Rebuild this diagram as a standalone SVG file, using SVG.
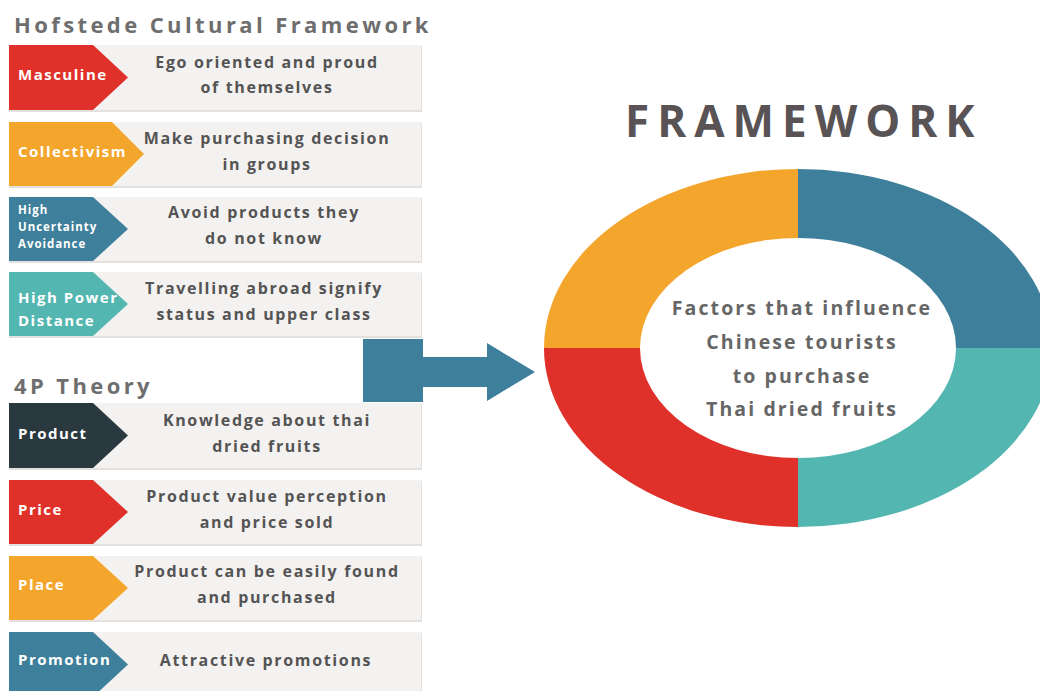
<svg xmlns="http://www.w3.org/2000/svg" width="1040" height="691" viewBox="0 0 1040 691">
  <defs>
    <style>
      .title { font-family: "Open Sans", "Liberation Sans", sans-serif; font-weight: 700; font-size: 22px; fill: #6e6e6e; letter-spacing: 3.4px; }
      .big { font-family: "Open Sans", "Liberation Sans", sans-serif; font-weight: 700; font-size: 44px; fill: #595356; letter-spacing: 8px; }
      .card { fill: #f4f2f0; }
      .card-edge { fill: #e3e0dd; }
      .tag { font-family: "Open Sans", "Liberation Sans", sans-serif; font-weight: 700; font-size: 15px; fill: #ffffff; letter-spacing: 1.5px; }
      .tag-s { font-family: "Open Sans", "Liberation Sans", sans-serif; font-weight: 700; font-size: 11.5px; fill: #ffffff; letter-spacing: 0.95px; }
      .desc { font-family: "Open Sans", "Liberation Sans", sans-serif; font-weight: 700; font-size: 16px; fill: #545454; text-anchor: middle; letter-spacing: 1.65px; }
      .center { font-family: "Open Sans", "Liberation Sans", sans-serif; font-weight: 700; font-size: 19.5px; fill: #666666; text-anchor: middle; letter-spacing: 2.1px; }
      .red { fill: #e0302a; }
      .orange { fill: #f4a52c; }
      .blue { fill: #3e7f9b; }
      .teal { fill: #53b6b0; }
      .dark { fill: #29393f; }
    </style>
  </defs>

  <rect width="1040" height="691" fill="#ffffff"/>

  <!-- section headings -->
  <text class="title" x="14" y="33">Hofstede Cultural Framework</text>
  <text class="title" x="14" y="394">4P Theory</text>
  <text class="big" x="625" y="137">FRAMEWORK</text>

  <!-- Hofstede rows -->
  <g id="masculine">
    <rect class="card-edge" x="9" y="46" width="413" height="66"/>
    <rect class="card" x="9" y="45" width="412" height="65"/>
    <polygon class="red" points="9,45 93,45 128,77.5 93,110 9,110"/>
    <text class="tag" x="18" y="80">Masculine</text>
    <text class="desc" x="267" y="68">Ego oriented and proud</text>
    <text class="desc" x="267" y="93">of themselves</text>
  </g>

  <g id="collectivism">
    <rect class="card-edge" x="9" y="123" width="413" height="65"/>
    <rect class="card" x="9" y="122" width="412" height="64"/>
    <polygon class="orange" points="9,122 112,122 144,154 112,186 9,186"/>
    <text class="tag" x="18" y="157">Collectivism</text>
    <text class="desc" x="267" y="144">Make purchasing decision</text>
    <text class="desc" x="267" y="170">in groups</text>
  </g>

  <g id="uncertainty">
    <rect class="card-edge" x="9" y="198" width="413" height="65"/>
    <rect class="card" x="9" y="197" width="412" height="64"/>
    <polygon class="blue" points="9,197 93,197 128,229 93,261 9,261"/>
    <text class="tag-s" x="18" y="214">High</text>
    <text class="tag-s" x="18" y="231">Uncertainty</text>
    <text class="tag-s" x="18" y="248">Avoidance</text>
    <text class="desc" x="264" y="218">Avoid products they</text>
    <text class="desc" x="264" y="244">do not know</text>
  </g>

  <g id="power-distance">
    <rect class="card-edge" x="9" y="273" width="413" height="65"/>
    <rect class="card" x="9" y="272" width="412" height="64"/>
    <polygon class="teal" points="9,272 93,272 128,304 93,336 9,336"/>
    <text class="tag" x="18" y="303">High Power</text>
    <text class="tag" x="18" y="326">Distance</text>
    <text class="desc" x="264" y="294">Travelling abroad signify</text>
    <text class="desc" x="264" y="320">status and upper class</text>
  </g>

  <!-- 4P rows -->
  <g id="product">
    <rect class="card-edge" x="9" y="404" width="413" height="66"/>
    <rect class="card" x="9" y="403" width="412" height="65"/>
    <polygon class="dark" points="9,403 93,403 128,435.5 93,468 9,468"/>
    <text class="tag" x="18" y="439">Product</text>
    <text class="desc" x="267" y="426">Knowledge about thai</text>
    <text class="desc" x="267" y="452">dried fruits</text>
  </g>

  <g id="price">
    <rect class="card-edge" x="9" y="481" width="413" height="65"/>
    <rect class="card" x="9" y="480" width="412" height="64"/>
    <polygon class="red" points="9,480 93,480 128,512 93,544 9,544"/>
    <text class="tag" x="18" y="515">Price</text>
    <text class="desc" x="267" y="502">Product value perception</text>
    <text class="desc" x="267" y="528">and price sold</text>
  </g>

  <g id="place">
    <rect class="card-edge" x="9" y="557" width="413" height="65"/>
    <rect class="card" x="9" y="556" width="412" height="64"/>
    <polygon class="orange" points="9,556 93,556 128,588 93,620 9,620"/>
    <text class="tag" x="18" y="590">Place</text>
    <text class="desc" x="267" y="577">Product can be easily found</text>
    <text class="desc" x="267" y="603">and purchased</text>
  </g>

  <g id="promotion">
    <rect class="card-edge" x="9" y="633" width="413" height="66"/>
    <rect class="card" x="9" y="632" width="412" height="65"/>
    <polygon class="blue" points="9,632 93,632 128,664.5 93,697 9,697"/>
    <text class="tag" x="18" y="665">Promotion</text>
    <text class="desc" x="266" y="666">Attractive promotions</text>
  </g>

  <!-- connector: block arrow into the ring -->
  <g id="connectors">
    <polygon class="blue" points="363,339 423,339 423,357 487,357 487,343 535,372 487,401 487,387 423,387 423,402 363,402"/>
  </g>

  <!-- four-part ring -->
  <g id="ring">
    <path class="blue" d="M798,169 A254,179 0 0 1 1052,348 L956,348 A158,110 0 0 0 798,238 Z"/>
    <path class="teal" d="M1052,348 A254,179 0 0 1 798,527 L798,458 A158,110 0 0 0 956,348 Z"/>
    <path class="red" d="M798,527 A254,179 0 0 1 544,348 L640,348 A158,110 0 0 0 798,458 Z"/>
    <path class="orange" d="M544,348 A254,179 0 0 1 798,169 L798,238 A158,110 0 0 0 640,348 Z"/>
    <text class="center" x="802" y="315">Factors that influence</text>
    <text class="center" x="802" y="349">Chinese tourists</text>
    <text class="center" x="802" y="383">to purchase</text>
    <text class="center" x="802" y="416">Thai dried fruits</text>
  </g>
</svg>
